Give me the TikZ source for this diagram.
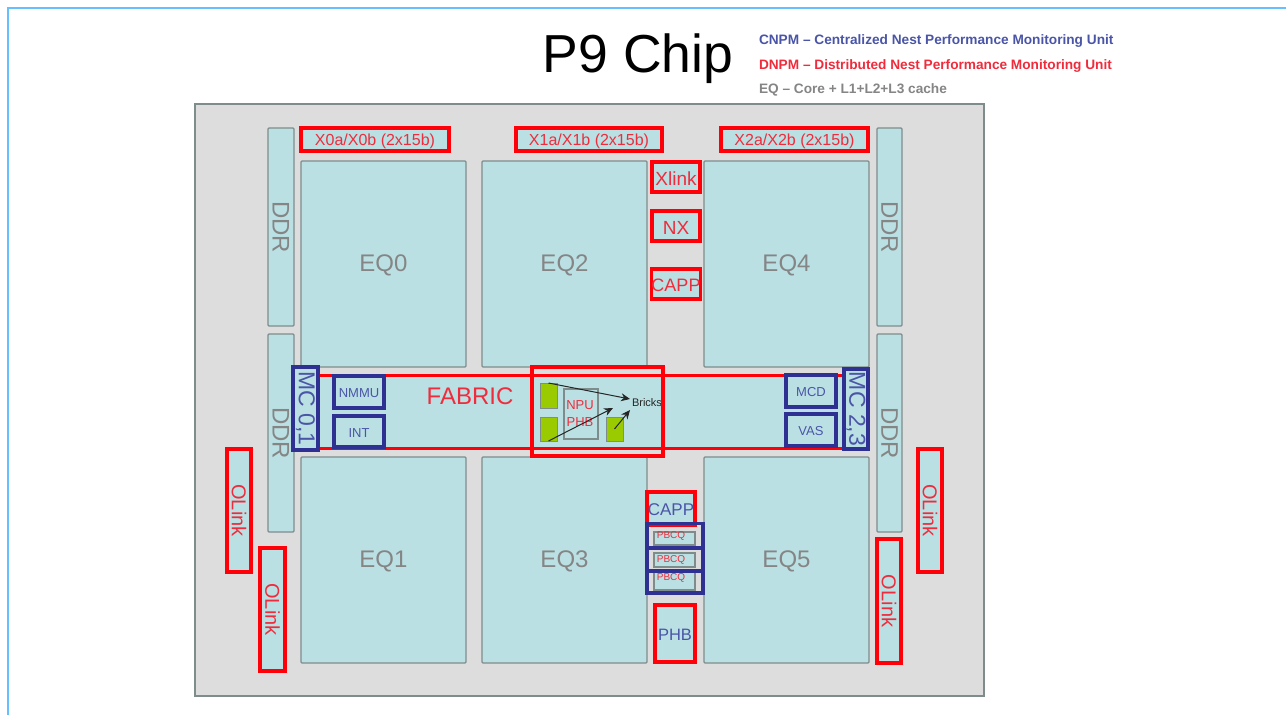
\documentclass[tikz,border=0pt]{standalone}
\usepackage{fontspec}
\setmainfont{Liberation Sans}
\usetikzlibrary{arrows.meta}
\definecolor{chipteal}{HTML}{BAE0E3}
\definecolor{chipgray}{HTML}{DDDDDD}
\definecolor{edge}{HTML}{7F8C8C}
\definecolor{redline}{HTML}{FF0008}
\definecolor{blueline}{HTML}{2E3192}
\definecolor{bluetext}{HTML}{4A55A8}
\definecolor{redtext}{HTML}{F02C3C}
\definecolor{graytext}{HTML}{858585}
\definecolor{frameblue}{HTML}{66BFFF}
\definecolor{chipgreen}{HTML}{9ACB00}
\newcommand{\fs}[1]{\fontsize{#1}{#1}\selectfont}
\tikzset{
  x=1pt,y=-1pt,
  base/.style={inner sep=0pt,outer sep=0pt,align=center},
  core/.style={base,draw=edge,fill=chipteal,line width=1.3pt,rounded corners=1pt,text=graytext},
  redbox/.style={base,draw=redline,fill=chipteal,line width=3.6pt,text=redtext},
  bluebox/.style={base,draw=blueline,fill=chipteal,line width=3.4pt,text=bluetext},
  hollowblue/.style={base,draw=blueline,line width=3.2pt},
  hollowred/.style={base,draw=redline,line width=3.6pt},
  inner/.style={base,draw=edge,fill=chipteal,line width=1.2pt},
  greenbox/.style={base,draw=edge,fill=chipgreen,line width=1pt},
  lab/.style={base,text=redtext},
  legend/.style={base,anchor=west,font=\bfseries\fs{13.66}},
  flow/.style={-{Stealth[length=9pt,width=8pt]},line width=1pt,draw=black!85}
}
% horizontal box: name, style, x1,y1,x2,y2, text
\newcommand{\bx}[7]{%
  \pgfmathsetmacro\cx{(#3+#5)/2}\pgfmathsetmacro\cy{(#4+#6)/2}%
  \node[#2,minimum width={(#5-#3)*1pt},minimum height={(#6-#4)*1pt}] (#1) at (\cx,\cy) {\raisebox{-1.5pt}[\height][\depth]{#7}};}
% vertical box: text turned to read downwards
\newcommand{\vx}[7]{%
  \pgfmathsetmacro\cx{(#3+#5)/2}\pgfmathsetmacro\cy{(#4+#6)/2}%
  \node[#2,rotate=-90,minimum width={(#6-#4)*1pt},minimum height={(#5-#3)*1pt}] (#1) at (\cx,\cy) {#7};}
\begin{document}
\begin{tikzpicture}
\useasboundingbox (0,0) rectangle (1286,715);
\fill[white] (0,0) rectangle (1286,715);
\coordinate (fa) at (7.5,715);
\coordinate (fb) at (7.5,8);
\coordinate (fc) at (1286,8);
\draw[frameblue,line width=2pt] (fa) -- (fb) -- (fc);

\node[base,anchor=center,font=\fs{53.5}] (title) at (638,59) {P9 Chip};
\node[legend,text=bluetext] (cnpm) at (759,41) {CNPM – Centralized Nest Performance Monitoring Unit};
\node[legend,text=redtext] (dnpm) at (759,65.5) {DNPM – Distributed Nest Performance Monitoring Unit};
\node[legend,text=graytext] (eqlegend) at (759,90) {EQ – Core + L1+L2+L3 cache};

\bx{chip}{base,draw=edge,fill=chipgray,line width=2pt}{194.5}{103.5}{984}{696}{}

\bx{eq0}{core,font=\fs{24}}{301}{161}{466}{367}{EQ0}
\bx{eq2}{core,font=\fs{24}}{482}{161}{647}{367}{EQ2}
\bx{eq4}{core,font=\fs{24}}{704}{161}{869}{367}{EQ4}
\bx{eq1}{core,font=\fs{24}}{301}{457}{466}{663}{EQ1}
\bx{eq3}{core,font=\fs{24}}{482}{457}{647}{663}{EQ3}
\bx{eq5}{core,font=\fs{24}}{704}{457}{869}{663}{EQ5}

\vx{ddr1}{core,font=\fs{24}}{268}{128}{294}{326}{DDR}
\vx{ddr2}{core,font=\fs{24}}{268}{334}{294}{532}{DDR}
\vx{ddr3}{core,font=\fs{24}}{877}{128}{902}{326}{DDR}
\vx{ddr4}{core,font=\fs{24}}{877}{334}{902}{532}{DDR}

\bx{x0}{redbox,font=\fs{16}}{301}{128}{449}{151}{X0a/X0b (2x15b)}
\bx{x1}{redbox,font=\fs{16}}{516}{128}{662}{151}{X1a/X1b (2x15b)}
\bx{x2}{redbox,font=\fs{16}}{721}{128}{868}{151}{X2a/X2b (2x15b)}
\bx{xlink}{redbox,font=\fs{19}}{652}{162}{700}{192}{Xlink}
\bx{nx}{redbox,font=\fs{19}}{652}{211}{700}{241}{NX}
\bx{capp1}{redbox,font=\fs{18}}{652}{269}{700}{299}{CAPP}

\bx{fabric}{base,draw=redline,fill=chipteal,line width=3.6pt}{306}{375.5}{856}{448.5}{}
\node[lab,font=\fs{24}] (fabriclabel) at (470,396) {FABRIC};

\vx{mc01}{bluebox,font=\fs{23}}{293}{367}{318}{450}{MC 0,1}
\vx{mc23}{bluebox,font=\fs{23}}{844}{369}{868}{449}{MC 2,3}
\bx{nmmu}{bluebox,font=\fs{13}}{334}{376}{384}{408}{NMMU}
\bx{int}{bluebox,font=\fs{13}}{334}{416}{384}{447}{INT}
\bx{mcd}{bluebox,font=\fs{13}}{786}{375}{836}{407}{MCD}
\bx{vas}{bluebox,font=\fs{13}}{786}{414}{836}{446}{VAS}

\bx{npu}{inner}{564}{389}{598}{439}{}
\node[lab,font=\fs{13}] (nputext) at (580,414) {NPU\\[4pt]PHB};
\bx{g1}{greenbox}{540}{383}{557}{408}{}
\bx{g2}{greenbox}{540}{417}{557}{441}{}
\bx{g3}{greenbox}{606}{417}{623}{441}{}
\node[base,anchor=west,text=black!85,font=\fs{11}] (bricks) at (632,403) {Bricks};
\coordinate (brickA) at (630,399);
\coordinate (brickB) at (630,410);
\coordinate (tipmid) at (613,408);
\draw[flow] (g1.north) -- (brickA);
\draw[flow] (g2.south) -- (tipmid);
\draw[flow] (g3.center) -- (brickB);
\bx{npubox}{hollowred}{532}{367}{663}{456}{}

\bx{capp2}{redbox,text=bluetext,font=\fs{17}}{647}{492}{695}{525}{CAPP}
\bx{q1}{inner}{654}{532}{695}{545}{}
\bx{q2}{inner}{654}{553}{695}{567}{}
\bx{q3}{inner}{654}{572}{695}{590}{}
\node[lab,font=\fs{10}] (q1t) at (671,536) {PBCQ};
\node[lab,font=\fs{10}] (q2t) at (671,560) {PBCQ};
\node[lab,font=\fs{10}] (q3t) at (671,578) {PBCQ};
\bx{b1}{hollowblue}{647}{523.5}{703}{548}{}
\bx{b2}{hollowblue}{647}{548}{703}{571}{}
\bx{b3}{hollowblue}{647}{571}{703}{593}{}
\bx{phb}{redbox,text=bluetext,font=\fs{16.5}}{655}{605}{695}{662}{PHB}

\vx{ol1}{redbox,font=\fs{20}}{227}{449}{251}{572}{OLink}
\vx{ol2}{redbox,font=\fs{20}}{260}{548}{285}{671}{OLink}
\vx{ol3}{redbox,font=\fs{20}}{918}{449}{942}{572}{OLink}
\vx{ol4}{redbox,font=\fs{20}}{877}{539}{901}{663}{OLink}
\end{tikzpicture}
\end{document}
